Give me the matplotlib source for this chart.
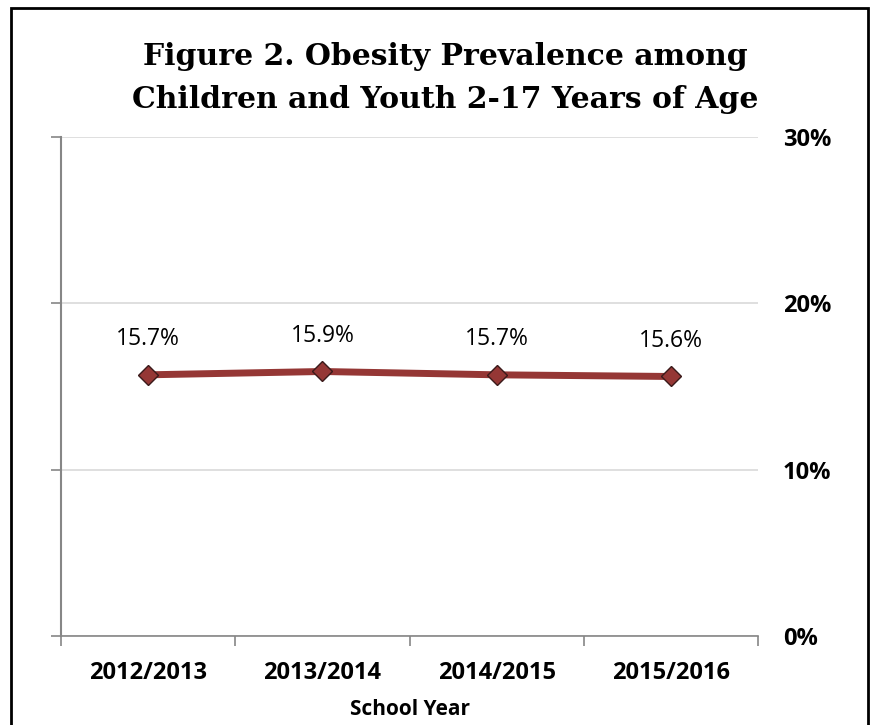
import matplotlib.pyplot as plt
import matplotlib.patches as patches
from matplotlib.ticker import FixedLocator

years = ['2012/2013', '2013/2014', '2014/2015', '2015/2016']
prevalence = [15.7, 15.9, 15.7, 15.6]
y_ticks = [0, 10, 20, 30]

fig = plt.figure(figsize=(8.75, 7.25), dpi=100)
ax = fig.add_axes([0.0697, 0.1228, 0.7966, 0.6883])

x = list(range(len(years)))
ax.plot(x, prevalence, color='#953735', linewidth=5, marker='D',
        markersize=10, markerfacecolor='#953735', markeredgecolor='#3a1a1a',
        markeredgewidth=1, zorder=3)
for xi, v in zip(x, prevalence):
    ax.annotate(f'{v}%', (xi, v), textcoords='offset points', xytext=(0, 17),
                ha='center', va='bottom', fontsize=16.5, family='Open Sans')

ax.set_xlim(-0.5, len(years) - 0.5)
ax.set_ylim(0, 30)
ax.set_yticks(y_ticks)
ax.set_yticklabels([f'{t}%' for t in y_ticks])
ax.grid(axis='y', color='#d9d9d9', linewidth=1.2)
ax.set_axisbelow(True)

ax.yaxis.set_ticks_position('both')
ax.tick_params(axis='y', which='major', left=True, right=False,
               labelleft=False, labelright=True, length=7, width=1.2,
               color='#868686', pad=11)
for lab in ax.get_yticklabels():
    lab.set_fontweight('bold')
    lab.set_fontsize(17)
    lab.set_family('Open Sans')

ax.set_xticks(x)
ax.set_xticklabels(years, fontsize=17, fontweight='bold', family='Open Sans')
ax.tick_params(axis='x', which='major', length=0, pad=18)
ax.xaxis.set_minor_locator(FixedLocator([-0.5, 0.5, 1.5, 2.5, 3.5]))
ax.tick_params(axis='x', which='minor', length=7, width=1.2, color='#868686')
ax.set_xlabel('School Year', fontsize=15, fontweight='bold', family='Open Sans',
              labelpad=10)

for s in ['top', 'right']:
    ax.spines[s].set_visible(False)
ax.spines['left'].set_color('#868686')
ax.spines['left'].set_linewidth(1.5)
ax.spines['bottom'].set_color('#868686')
ax.spines['bottom'].set_linewidth(1.2)

fig.text(0.509, 0.892, 'Figure 2. Obesity Prevalence among\nChildren and Youth 2-17 Years of Age',
         ha='center', va='center', fontsize=21.5, fontweight='bold',
         family='DejaVu Serif', linespacing=1.6)

border = patches.Rectangle((11 / 875, -0.01), 857 / 875, 1 - 8 / 725 + 0.01,
                           transform=fig.transFigure, fill=False,
                           edgecolor='black', linewidth=2, clip_on=False)
fig.patches.append(border)

fig.savefig('out.png', dpi=100)
